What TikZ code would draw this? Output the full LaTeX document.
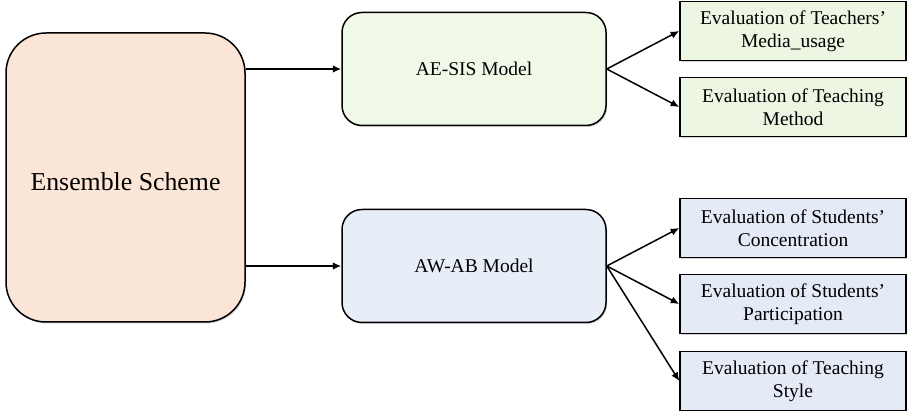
\documentclass[tikz,border=0pt]{standalone}
\usepackage{fontspec}
\setmainfont{Liberation Serif}
\usetikzlibrary{arrows.meta,shadows}
\definecolor{peach}{HTML}{FBE5D6}
\definecolor{lgreen}{HTML}{F0F8E8}
\definecolor{rgreen}{HTML}{EDF5E3}
\definecolor{lblue}{HTML}{E8EEF8}
\definecolor{rblue}{HTML}{E4EAF6}
\tikzset{
  shad/.style={drop shadow={opacity=0.35,shadow xshift=1.2pt,shadow yshift=-1.5pt}},
  bigbox/.style={draw,line width=1.5pt,rounded corners=40pt,fill=peach,shad,inner sep=0pt},
  modbox/.style={draw,line width=1.5pt,rounded corners=20pt,shad,inner sep=0pt,
    minimum width=264pt,minimum height=113pt,font=\fontsize{19.5}{23}\selectfont},
  evbox/.style={draw,line width=1.5pt,shad,inner sep=0pt,align=center,
    minimum width=226pt,minimum height=59pt,font=\fontsize{19.5}{23}\selectfont},
  conn/.style={line width=1.5pt,-{Latex[length=8.5pt,width=7.5pt]}}
}
\begin{document}
\begin{tikzpicture}[x=1pt,y=-1pt]
\useasboundingbox (0,0) rectangle (907,411);
\node[bigbox,minimum width=239pt,minimum height=289pt] (ens) at (125.5,177.5) {};
\node at (125.5,182) (enst) {\fontsize{25.8}{30}\selectfont Ensemble Scheme};
\node[modbox,fill=lgreen] (ae) at (474,69) {AE-SIS Model};
\node[modbox,fill=lblue] (aw) at (474,266) {AW-AB Model};
\node[evbox,fill=rgreen] (e1) at (793,31) {Evaluation of Teachers’\\Media\_usage};
\node[evbox,fill=rgreen] (e2) at (793,107) {Evaluation of Teaching\\Method};
\node[evbox,fill=rblue] (e3) at (793,228) {Evaluation of Students’\\Concentration};
\node[evbox,fill=rblue] (e4) at (793,304) {Evaluation of Students’\\Participation};
\node[evbox,fill=rblue] (e5) at (793,381) {Evaluation of Teaching\\Style};
\draw[conn] (ens.east |- ae) -- (ae.west);
\draw[conn] (ens.east |- aw) -- (aw.west);
\draw[conn] (ae.east) -- (e1.west);
\draw[conn] (ae.east) -- (e2.west);
\draw[conn] (aw.east) -- (e3.west);
\draw[conn] (aw.east) -- (e4.west);
\draw[conn] (aw.east) -- (e5.west);
\end{tikzpicture}
\end{document}
